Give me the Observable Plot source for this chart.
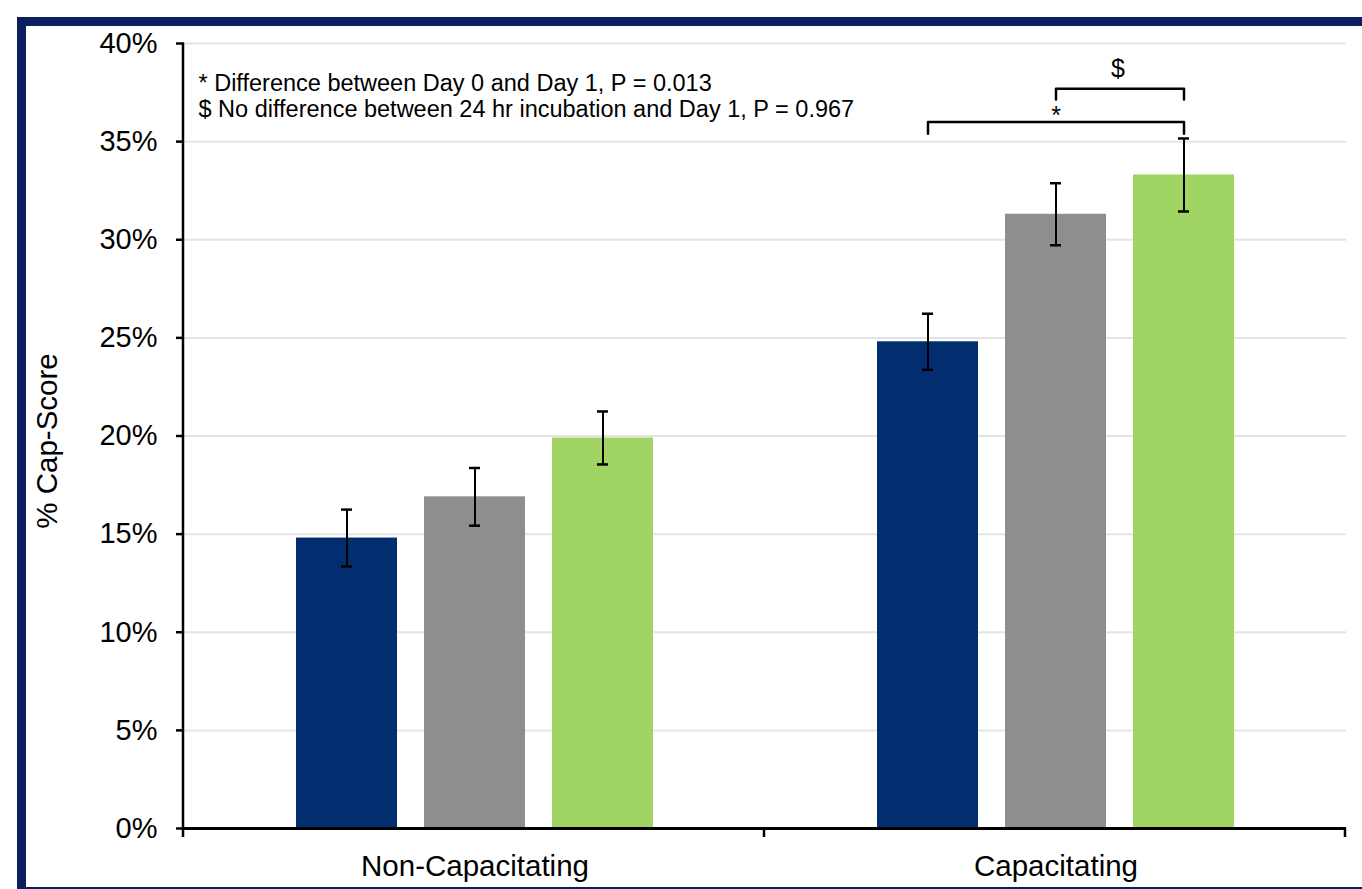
<!DOCTYPE html>
<html><head><meta charset="utf-8">
<script src="https://cdn.jsdelivr.net/npm/d3@7"></script>
<script src="https://cdn.jsdelivr.net/npm/@observablehq/plot@0.6"></script>
<style>
html,body{margin:0;padding:0;background:#fff;overflow:hidden}
#wrap{position:relative;width:1362px;height:889px;overflow:hidden}
#border{position:absolute;left:17px;top:17px;width:1420px;height:879px;border:9px solid #0c1f5c;box-sizing:border-box;pointer-events:none}
</style></head><body><div id="wrap"><div id="chart"></div><div id="border"></div></div>
<script>
const groups = ["Non-Capacitating", "Capacitating"];
const series = ["Day 0", "24 hr incubation", "Day 1"];
const seriesColors = ["#022d6f", "#8e8e8e", "#a1d563"];
const nonCapMeans = [14.8, 16.9, 19.9];
const nonCapErrors = [1.45, 1.47, 1.35];
const capMeans = [24.8, 31.3, 33.3];
const capErrors = [1.43, 1.58, 1.86];
const yTicks = [0, 5, 10, 15, 20, 25, 30, 35, 40];
const notes = ["* Difference between Day 0 and Day 1, P = 0.013", "$ No difference between 24 hr incubation and Day 1, P = 0.967"];
const bracketFrom = ["Day 0", "24 hr incubation"];
const bracketTo = ["Day 1", "Day 1"];
const bracketTop = [36.0, 37.7];
const bracketLeg = [35.4, 37.15];
const bracketSymbols = ["*", "$"];
const bracketSymbolY = [36.3, 38.7];
const yTitle = "% Cap-Score";

const rows = [];
groups.forEach((g, gi) => {
  const m = gi === 0 ? nonCapMeans : capMeans;
  const e = gi === 0 ? nonCapErrors : capErrors;
  series.forEach((s, si) => rows.push({group: g, series: s, mean: m[si], err: e[si]}));
});
const bracketPts = [];
bracketFrom.forEach((f, i) => {
  const t = bracketTo[i];
  bracketPts.push({b: i, group: "Capacitating", series: f, y: bracketLeg[i]});
  bracketPts.push({b: i, group: "Capacitating", series: f, y: bracketTop[i]});
  bracketPts.push({b: i, group: "Capacitating", series: t, y: bracketTop[i]});
  bracketPts.push({b: i, group: "Capacitating", series: t, y: bracketLeg[i]});
});
const symRows = bracketSymbols.map((s, i) => ({group: "Capacitating", series: "24 hr incubation", text: s, y: bracketSymbolY[i]}));

const font = "'Liberation Sans', Arial, sans-serif";
const plot = Plot.plot({
  width: 1362, height: 889,
  marginLeft: 183, marginRight: 16, marginTop: 43, marginBottom: 61,
  style: {fontFamily: font, fontSize: "29px", color: "#000", background: "transparent"},
  fx: {domain: groups, padding: 0, label: null, axis: null},
  x: {domain: series, paddingInner: 0.209, paddingOuter: 0.858, axis: null},
  y: {domain: [0, 40], axis: null},
  color: {domain: series, range: seriesColors},
  marks: [
    Plot.ruleY(yTicks.filter(d => d > 0), {stroke: "#e4e4e4", strokeWidth: 2}),
    Plot.barY(rows, {fx: "group", x: "series", y: "mean", fill: "series"}),
    Plot.ruleX(rows, {fx: "group", x: "series", y1: d => d.mean - d.err, y2: d => d.mean + d.err, stroke: "#000", strokeWidth: 2}),
    Plot.tickY(rows, {fx: "group", x: "series", y: d => d.mean + d.err, insetLeft: 45, insetRight: 45, stroke: "#000", strokeWidth: 2.5}),
    Plot.tickY(rows, {fx: "group", x: "series", y: d => d.mean - d.err, insetLeft: 45, insetRight: 45, stroke: "#000", strokeWidth: 2.5}),
    Plot.ruleY([0], {stroke: "#000", strokeWidth: 3}),
    Plot.axisY({ticks: yTicks, tickSize: 8, tickPadding: 19, strokeWidth: 2.5, tickFormat: d => d + "%", label: null, fontSize: 29}),
    Plot.axisFx({anchor: "bottom", tickSize: 0, tickPadding: 27, label: null, fontSize: 29.5}),
    Plot.line(bracketPts, {fx: "group", x: "series", y: "y", z: "b", stroke: "#000", strokeWidth: 2.5, strokeLinejoin: "round"}),
    Plot.text(symRows.slice(0, 1), {fx: "group", x: "series", y: "y", text: "text", fontSize: 25}),
    Plot.text(symRows.slice(1), {fx: "group", x: "series", y: "y", text: "text", fontSize: 25, dx: 62}),
    Plot.text([{group: "Non-Capacitating", text: notes.join("\n")}], {fx: "group", text: "text", frameAnchor: "top-left", lineAnchor: "top", textAnchor: "start", dx: 14, dy: 29, fontSize: 23.5, lineHeight: 1.1}),
    Plot.text([{group: "Non-Capacitating", text: yTitle}], {fx: "group", text: "text", frameAnchor: "left", textAnchor: "middle", rotate: -90, dx: -137, dy: 5, fontSize: 29.5})
  ]
});
document.getElementById("chart").appendChild(plot);

// axis decorations derived from scales
const fxS = plot.scale("fx");
const yS = plot.scale("y");
const svg = d3.select(plot);
const x0 = fxS.range[0];
const step = fxS.step;
const yBase = yS.apply(0), yTop = yS.apply(40);
svg.append("line").attr("x1", x0).attr("x2", x0).attr("y1", yTop).attr("y2", yBase + 1.5)
  .attr("stroke", "#000").attr("stroke-width", 2.5);
for (let i = 0; i <= groups.length; i++) {
  const xx = x0 + i * step;
  svg.append("line").attr("x1", xx).attr("x2", xx).attr("y1", yBase).attr("y2", yBase + 9)
    .attr("stroke", "#000").attr("stroke-width", 2.5);
}
</script></body></html>
